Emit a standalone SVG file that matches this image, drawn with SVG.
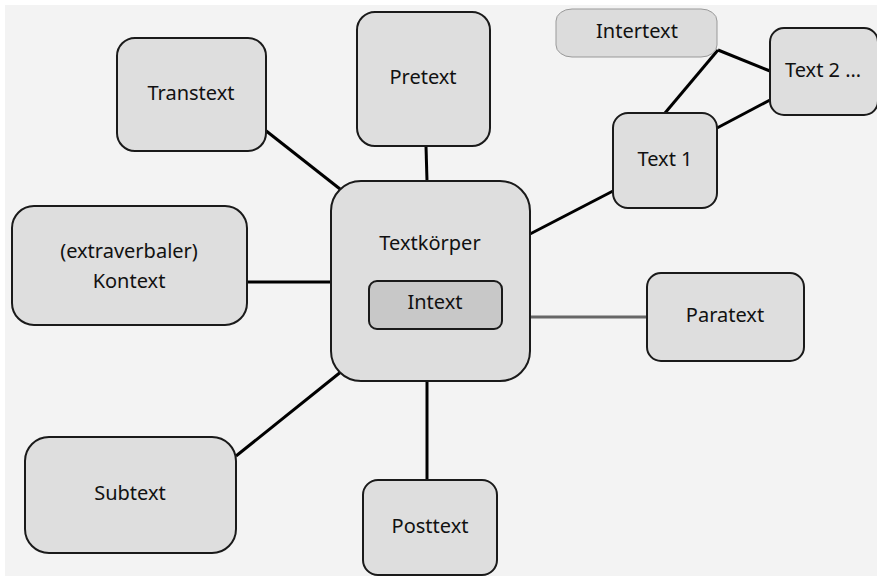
<svg xmlns="http://www.w3.org/2000/svg" width="877" height="576" viewBox="0 0 877 576">
<style>
.n{fill:#dedede;stroke:#1a1a1a;stroke-width:2}
.t{font-family:"Noto Sans","Open Sans",sans-serif;font-size:20px;fill:#111;text-anchor:middle}
.c{stroke:#000;stroke-width:3;fill:none}
</style>
<rect width="877" height="576" fill="#fff"/>
<rect x="5" y="5" width="872" height="571" fill="#f3f3f3"/>
<g id="connectors">
<line class="c" x1="265" y1="130" x2="340" y2="189"/>
<line class="c" x1="426" y1="146" x2="427" y2="181"/>
<line class="c" x1="247" y1="282" x2="331" y2="282"/>
<line class="c" x1="236" y1="456" x2="342" y2="371"/>
<line class="c" x1="427" y1="381" x2="427" y2="480"/>
<line x1="530" y1="317" x2="647" y2="317" stroke="#666" stroke-width="3"/>
<line class="c" x1="530" y1="234" x2="613" y2="191"/>
<line class="c" x1="718" y1="50" x2="665" y2="113"/>
<line class="c" x1="718" y1="50" x2="770" y2="71"/>
<line class="c" x1="717" y1="128" x2="770" y2="100"/>
</g>
<g id="transtext"><rect class="n" x="117" y="38" width="149" height="113" rx="18"/><text class="t" x="191" y="100">Transtext</text></g>
<g id="pretext"><rect class="n" x="357" y="12" width="133" height="134" rx="18"/><text class="t" x="423" y="84">Pretext</text></g>
<g id="kontext"><rect class="n" x="12" y="206" width="235" height="119" rx="22"/><text class="t" x="129" y="258">(extraverbaler)</text><text class="t" x="129" y="288">Kontext</text></g>
<g id="subtext"><rect class="n" x="25" y="437" width="211" height="116" rx="24"/><text class="t" x="130" y="500">Subtext</text></g>
<g id="posttext"><rect class="n" x="363" y="480" width="134" height="95" rx="15"/><text class="t" x="430" y="533">Posttext</text></g>
<g id="paratext"><rect class="n" x="647" y="273" width="157" height="88" rx="14"/><text class="t" x="725" y="322">Paratext</text></g>
<g id="textkoerper"><rect class="n" x="331" y="181" width="199" height="200" rx="30"/><text class="t" x="430" y="250">Textkörper</text>
<g id="intext"><rect x="369" y="281" width="133" height="48" rx="8" fill="#c8c8c8" stroke="#1a1a1a" stroke-width="2"/><text class="t" x="435" y="309">Intext</text></g></g>
<g id="text1"><rect class="n" x="613" y="113" width="104" height="95" rx="15"/><text class="t" x="665" y="166">Text 1</text></g>
<g id="text2"><rect class="n" x="770" y="28" width="108" height="87" rx="14"/><text class="t" x="823" y="77">Text 2 …</text></g>
<g id="intertext"><rect x="556" y="9" width="161" height="48" rx="16" ry="12" fill="#dcdcdc" stroke="#999" stroke-width="1"/><text class="t" x="637" y="38">Intertext</text></g>
</svg>
